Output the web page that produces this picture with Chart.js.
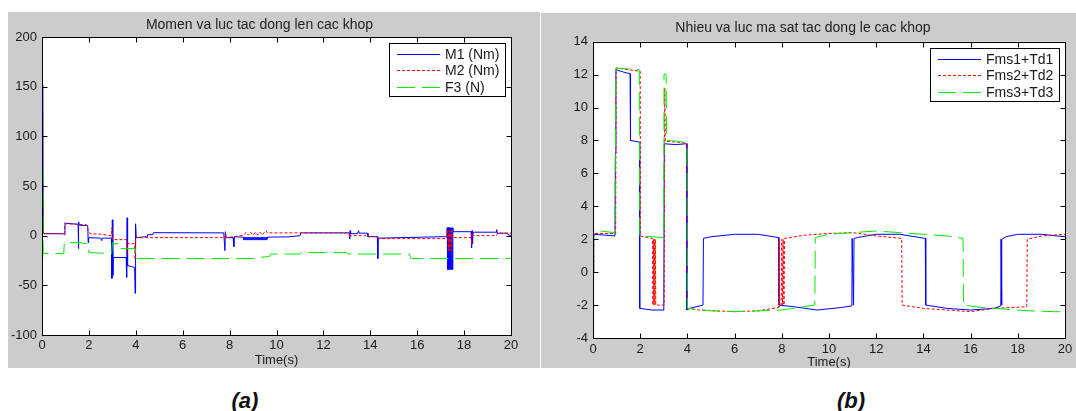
<!DOCTYPE html>
<html>
<head>
<meta charset="utf-8">
<script src="https://cdn.jsdelivr.net/npm/chart.js@4.4.1/dist/chart.umd.min.js"></script>
<style>
body { margin: 0; width: 1076px; height: 411px; overflow: hidden; background: #fff; position: relative; }
canvas { position: absolute; background: #cccccc; }
#chartA { left: 8px; top: 12px; }
#chartB { left: 541px; top: 13px; }
.cap { position: absolute; top: 388px; width: 60px; text-align: center; line-height: 24px;
       font: bold italic 22px "Liberation Sans", Arial, sans-serif; color: #111; }
</style>
</head>
<body>
<canvas id="chartA" width="532" height="356"></canvas>
<canvas id="chartB" width="560" height="355"></canvas>
<div class="cap" style="left:215px">(a)</div>
<div class="cap" style="left:821px">(b)</div>
<script>
// values, [time, value]
const leftTitle = 'Momen va luc tac dong len cac khop';
const leftLabels = ['M1 (Nm)', 'M2 (Nm)', 'F3 (N)'];
const seriesM1 = [
  [0,2],[0.03,152],[0.05,2],[0.9,2],[0.95,1],[0.98,13],[1.0,12.5],[1.54,11.5],[1.55,-13],[1.57,14],[1.6,10.5],
  [1.95,10],[1.97,-7],[1.99,-2],[2.5,-2.5],[2.55,-5],[2.57,-2.5],[2.96,-2.5],[2.98,-43],[3.0,16],
  [3.02,-40],[3.04,-22],[3.59,-22],[3.61,-42],[3.63,18],[3.65,-30],[3.8,-31],[3.95,-32],[3.97,-58],
  [3.99,12],[4.02,-2],[4.48,-1],[4.5,1],[4.72,1],[4.75,3],[7.75,2.8],[7.8,-15],[7.82,4],[7.85,-2],
  [8.15,-2],[8.18,-11],[8.2,-1],[8.6,-1.5],
  [8.6,-2],[9.6,-2],[9.6,-3],[8.6,-3],[8.6,-4],[9.6,-4],[9.6,-1.5],
  [10.5,-1.2],[11.0,0],[11.05,3],[11.1,2.8],[13.1,2.8],[13.12,-3],[13.14,5],[13.16,2],[13.45,2],
  [13.5,5],[13.52,2.5],[13.88,2.5],[13.9,-1],[14.3,-1],[14.32,-23],[14.34,-2.5],[17.2,-1],[17.26,-1],
  [17.28,8],[17.3,-34],[17.32,8],[17.34,-34],[17.36,8],[17.38,-34],[17.4,8],[17.42,-34],[17.44,8],
  [17.46,-34],[17.48,8],[17.5,-34],[17.52,8],[17.54,4],
  [18.3,4],[18.32,-12],[18.34,5],[18.36,-8],[18.38,3.5],[19.37,3.5],[19.39,6],[19.41,2.5],
  [19.85,2.5],[19.9,0.5],[20,0.5]
];
const seriesM2 = [
  [0,2],[0.03,57],[0.05,2],[0.95,2],[0.98,12],[1.9,11],[1.95,7],[2.05,2],[2.5,1.5],[2.96,0],[2.98,8],[3.0,-4],
  [3.6,-4],[3.62,-18],[3.64,-8],[3.95,-8],[3.97,-24],[4.0,-2],[7.75,-2],[7.8,-3],[7.82,3],[7.85,-2],
  [8.2,-1],[8.6,0.5],
  [8.7,3.5],[8.8,0.5],[8.9,3.5],[9.0,0.5],[9.1,3.5],[9.2,0.5],[9.3,3.5],[9.4,0.5],[9.5,4],[9.55,5],
  [9.6,2.8],[13.1,2.8],[13.12,-2],[13.15,0],[13.8,0],[13.85,-1],[14.3,-1],[14.35,-3],[17.25,-3],
  [17.3,5],[17.33,-15],[17.36,5],[17.39,-15],[17.42,5],[17.45,-15],[17.48,5],[17.5,-2],
  [18.3,-2],[18.32,-8],[18.35,5],[18.37,0],[19.38,0],[19.42,2.5],[20,2.5]
];
const seriesF3 = [
  [0.03,-25],[0.03,73],[0.05,-18],[0.93,-18],[0.95,-7],[1.7,-7],[1.72,-8],[1.98,-8],[2.0,-17],[2.97,-18],
  [3.0,-7],[3.05,-8],[3.33,-8],[3.35,-13],[3.97,-13],[4.0,-23],[9.15,-23],[9.2,-22],[9.7,-21],
  [9.75,-18.5],[11.0,-18.5],[11.05,-17],[13.0,-17],[13.05,-18.5],[15.65,-18.5],[15.75,-23],[20,-23]
];

const rightTitle = 'Nhieu va luc ma sat tac dong le cac khop';
const rightLabels = ['Fms1+Td1', 'Fms2+Td2', 'Fms3+Td3'];
const seriesFms1 = [
  [0.03,0],[0.03,2.3],[0.5,2.25],[0.93,2.2],[0.95,7.2],[0.97,12.3],[1.3,12.15],[1.57,12.05],[1.59,8.0],
  [1.97,7.9],[1.98,-2.2],[2.5,-2.3],[3.0,-2.3],[3.02,7.8],[3.5,7.75],[3.97,7.8],[3.98,-2.3],[4.1,-2.2],
  [4.66,-2.0],[4.68,2.05],[5.0,2.15],[6.0,2.3],[7.0,2.3],[7.86,2.1],[7.88,-2.0],[8.5,-2.1],[9.5,-2.3],
  [10.5,-2.15],[10.97,-2.05],[10.98,2.05],[11.04,-2.0],[11.06,2.05],[11.2,2.1],[12.0,2.3],[13.0,2.3],
  [14.08,2.05],[14.1,-2.0],[15.0,-2.2],[16.0,-2.3],[17.0,-2.2],[17.28,-2.05],[17.29,2.0],[17.31,-2.0],
  [17.33,2.0],[17.5,2.15],[18.0,2.3],[19.0,2.3],[20,2.15]
];
const seriesFms2 = [
  [0.03,0],[0.03,2.35],[0.96,2.35],[0.98,12.4],[1.5,12.3],[2.0,12.2],[2.01,2.2],[2.3,2.1],[2.52,2.05],
  [2.54,-2.0],[2.56,2.0],[2.58,-2.0],[2.6,2.0],[2.62,-2.0],[2.64,2.0],[2.66,-2.0],[3.02,-2.0],
  [3.04,11.2],[3.06,7.95],[3.6,7.9],[3.99,7.8],[4.0,-2.2],[4.5,-2.3],[6.0,-2.4],[7.0,-2.35],
  [7.86,-2.15],[7.88,2.0],[7.9,-2.1],[7.97,-2.1],[8.0,2.0],[8.03,-2.0],[8.06,2.0],[8.09,-2.0],
  [8.12,2.05],[9.0,2.25],[10.0,2.35],[11.0,2.4],[12.0,2.2],[13.08,2.05],[13.1,-2.0],[14.0,-2.2],
  [15.0,-2.3],[16.0,-2.4],[17.0,-2.2],[18.38,-2.1],[18.4,2.0],[19.0,2.2],[20,2.3]
];
const seriesFms3 = [
  [0.03,0],[0.03,2.6],[0.3,2.5],[0.93,2.4],[0.95,7.2],[0.97,12.4],[1.5,12.35],[1.96,12.3],[1.98,2.2],
  [2.5,2.15],[3.0,2.1],[3.01,12.05],[3.1,12.0],[3.12,8.0],[3.6,7.95],[3.98,7.85],[4.0,-2.2],
  [5.0,-2.35],[6.0,-2.4],[8.0,-2.3],[9.4,-2.0],[9.42,2.1],[10.0,2.3],[11.0,2.4],[12.0,2.5],
  [13.0,2.4],[14.0,2.3],[15.0,2.2],[15.68,2.05],[15.7,-2.0],[16.5,-2.15],[17.5,-2.25],[18.5,-2.35],
  [19.5,-2.4],[20,-2.4]
];

const lineColors = ['#0000ff', '#ff0000', '#00ee00'];
const lineDashes = [[], [3, 2], [18, 7]];
const fontFamily = '"Liberation Sans", Arial, sans-serif';
const textColor = '#1a1a1a';

// white axes box with inward tick marks on all four sides, like matlab
const matlabBox = {
  id: 'matlabBox',
  beforeDraw(chart) {
    const {ctx, chartArea: a} = chart;
    ctx.save();
    ctx.fillStyle = '#fff';
    ctx.fillRect(a.left, a.top, a.right - a.left, a.bottom - a.top);
    ctx.restore();
  },
  afterDatasetsDraw(chart) {
    const {ctx, chartArea: a, scales: {x, y}} = chart;
    const l = Math.round(a.left) + 0.5, r = Math.round(a.right) + 0.5;
    const t = Math.round(a.top) + 0.5, b = Math.round(a.bottom) + 0.5;
    ctx.save();
    ctx.strokeStyle = '#000';
    ctx.lineWidth = 1;
    ctx.beginPath();
    x.ticks.forEach(tk => {
      const px = Math.round(x.getPixelForValue(tk.value)) + 0.5;
      ctx.moveTo(px, b); ctx.lineTo(px, b - 5);
      ctx.moveTo(px, t); ctx.lineTo(px, t + 5);
    });
    y.ticks.forEach(tk => {
      const py = Math.round(y.getPixelForValue(tk.value)) + 0.5;
      ctx.moveTo(l, py); ctx.lineTo(l + 5, py);
      ctx.moveTo(r, py); ctx.lineTo(r - 5, py);
    });
    ctx.stroke();
    ctx.strokeRect(l, t, r - l, b - t);
    ctx.restore();
  }
};

// legend box in the top right corner of the axes
const boxLegend = {
  id: 'boxLegend',
  afterDraw(chart) {
    const {ctx, chartArea: a} = chart;
    const sets = chart.data.datasets;
    ctx.save();
    ctx.font = '14px ' + fontFamily;
    const textW = Math.max(...sets.map(d => ctx.measureText(d.label).width));
    const rowH = 16.6;
    const w = Math.round(56 + textW + 6);
    const h = Math.round(rowH * (sets.length - 1) + 20);
    const bx = Math.round(a.right - 6 - w), by = Math.round(a.top + 6);
    ctx.fillStyle = '#fff';
    ctx.fillRect(bx, by, w, h);
    ctx.strokeStyle = '#000';
    ctx.lineWidth = 1;
    ctx.strokeRect(bx + 0.5, by + 0.5, w, h);
    sets.forEach((d, i) => {
      const cy = Math.round(by + 10.5 + i * rowH) + 0.5;
      ctx.lineWidth = 1;
      ctx.strokeStyle = lineColors[i];
      ctx.setLineDash(lineDashes[i]);
      ctx.beginPath();
      ctx.moveTo(bx + 8, cy);
      ctx.lineTo(bx + 51, cy);
      ctx.stroke();
      ctx.setLineDash([]);
      ctx.fillStyle = textColor;
      ctx.textBaseline = 'middle';
      ctx.fillText(d.label, bx + 56, cy + 1);
    });
    ctx.restore();
  }
};

function drawPanel(id, title, labels, series, yMin, yMax, yStep, box) {
  const ctx = document.getElementById(id);
  const font = {family: fontFamily, size: 13, weight: 'normal'};
  new Chart(ctx, {
    type: 'line',
    data: {
      datasets: series.map((pts, i) => ({
        label: labels[i],
        data: pts.map(p => ({x: p[0], y: p[1]})),
        borderColor: lineColors[i],
        borderDash: lineDashes[i],
        borderWidth: 1,
        pointRadius: 0,
        tension: 0,
        order: series.length - i
      }))
    },
    options: {
      responsive: false,
      animation: false,
      events: [],
      layout: {padding: {left: 0, right: box.right, top: 0, bottom: 0}},
      plugins: {
        legend: {display: false},
        tooltip: {enabled: false},
        title: {
          display: true, text: title, color: '#222',
          font: {family: fontFamily, size: 14, weight: 'normal'},
          padding: {top: box.titleTop, bottom: box.titleBottom}
        }
      },
      scales: {
        x: {
          type: 'linear', min: 0, max: 20,
          grid: {display: false, drawTicks: false},
          border: {display: false},
          ticks: {stepSize: 2, color: textColor, font: font, padding: box.xPad, maxRotation: 0},
          title: {display: true, text: 'Time(s)', color: textColor, font: font,
                  padding: {top: 0, bottom: box.xTitleBottom}},
          afterFit: s => { s.height = box.xHeight; }
        },
        y: {
          min: yMin, max: yMax,
          grid: {display: false, drawTicks: false},
          border: {display: false},
          ticks: {stepSize: yStep, color: textColor, font: font, padding: 5},
          afterFit: s => { s.width = box.yWidth; }
        }
      }
    },
    plugins: [matlabBox, boxLegend]
  });
}

drawPanel('chartA', leftTitle, leftLabels, [seriesM1, seriesM2, seriesF3], -100, 200, 50,
  {right: 29, titleTop: 4.6, titleBottom: 3.6, xHeight: 33, xPad: 3, xTitleBottom: 0.2, yWidth: 34});
drawPanel('chartB', rightTitle, rightLabels, [seriesFms1, seriesFms2, seriesFms3], -4, 14, 2,
  {right: 36, titleTop: 6.9, titleBottom: 5.0, xHeight: 30, xPad: 3.5, xTitleBottom: -2.5, yWidth: 52});
</script>
</body>
</html>
